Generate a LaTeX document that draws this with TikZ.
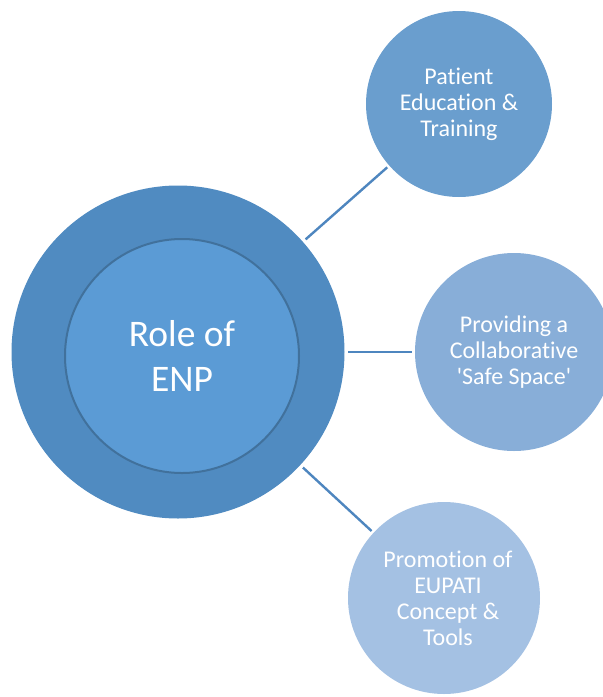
\documentclass[tikz,border=0pt]{standalone}
\usepackage{fontspec}
\setmainfont{Carlito}[Ligatures={TeXOff,NoCommon}]
\definecolor{outerc}{HTML}{508BC1}
\definecolor{innerc}{HTML}{5B9BD5}
\definecolor{innerline}{HTML}{41719C}
\definecolor{topc}{HTML}{6A9ECE}
\definecolor{midc}{HTML}{88AED8}
\definecolor{botc}{HTML}{A4C1E3}
\definecolor{linkc}{HTML}{4E86BF}
\tikzset{
  bubble/.style={circle, inner sep=0pt, draw=none, text=white, align=center,
    font=\fontsize{24}{26}\selectfont},
  link/.style={draw=linkc, line width=2.4pt, shorten <=3.5pt, shorten >=2.5pt}
}
\begin{document}
\begin{tikzpicture}[x=1pt, y=-1pt]
\useasboundingbox (0,0) rectangle (603,697);
\clip (0,0) rectangle (603,697);
\node[circle, inner sep=0pt, fill=outerc, minimum size=333pt] (outer) at (178,352) {};
\node[circle, inner sep=0pt, fill=innerc, draw=innerline, line width=2pt, minimum size=234pt,
  text=white, align=center, font=\fontsize{37.5}{45}\selectfont] (inner) at (182,356) {Role of\\ENP};
\node[bubble, fill=topc, minimum size=186pt] (top) at (459,104) {Patient\\Education \&\\Training};
\node[bubble, fill=midc, minimum size=198pt] (mid) at (514,352) {Providing a\\Collaborative\\'Safe Space'};
\node[bubble, fill=botc, minimum size=192pt] (bot) at (444,598) {\hspace*{8pt}Promotion of\\\hspace*{8pt}EUPATI\\\hspace*{8pt}Concept \&\\\hspace*{8pt}Tools};
\draw[link] (outer) -- (top);
\draw[link] (outer) -- (mid);
\draw[link] (outer) -- (bot);
\end{tikzpicture}
\end{document}
